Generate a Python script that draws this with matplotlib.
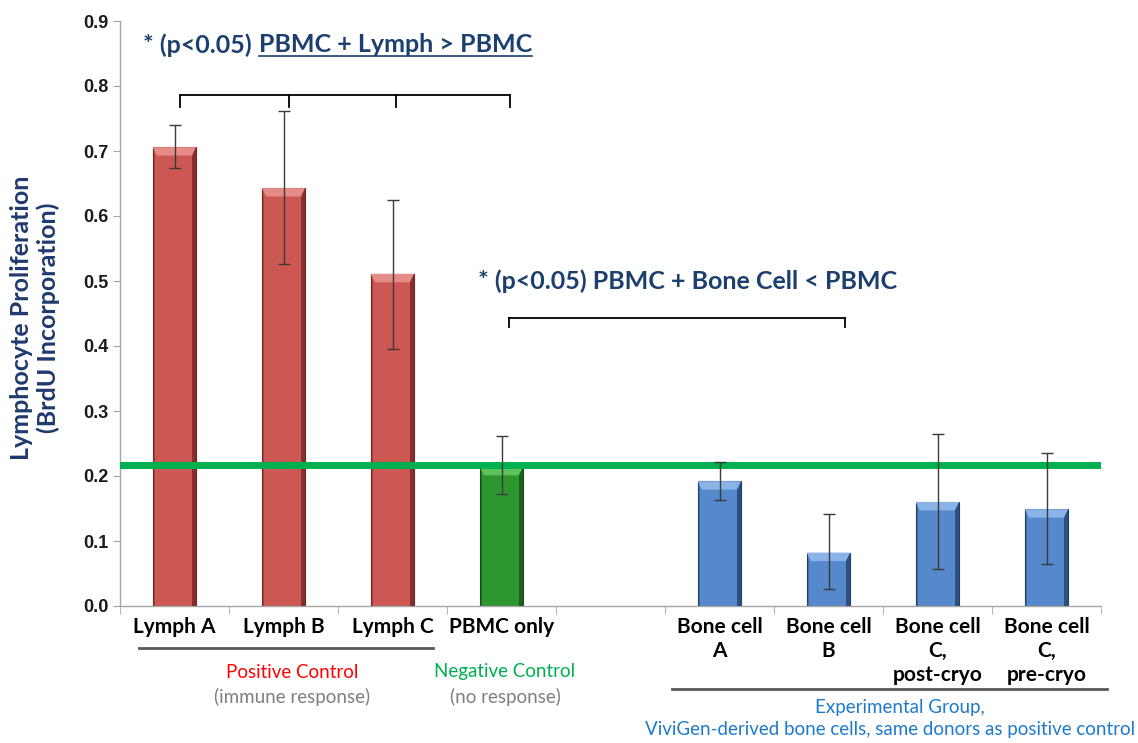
import numpy as np
import matplotlib
matplotlib.use("Agg")
import matplotlib.pyplot as plt
from matplotlib.patches import Polygon
from matplotlib.lines import Line2D
from matplotlib.transforms import IdentityTransform

# data
labels = ["Lymph A", "Lymph B", "Lymph C", "PBMC only", "",
          "Bone cell\nA", "Bone cell\nB", "Bone cell\nC,\npost-cryo", "Bone cell\nC,\npre-cryo"]
positions = [0, 1, 2, 3, 5, 6, 7, 8]
values = [0.706, 0.643, 0.511, 0.214, 0.192, 0.082, 0.160, 0.149]
err_hi = [0.740, 0.762, 0.625, 0.262, 0.221, 0.142, 0.265, 0.235]
err_lo = [0.674, 0.526, 0.395, 0.172, 0.163, 0.026, 0.057, 0.065]
groups = ["pos", "pos", "pos", "neg", "exp", "exp", "exp", "exp"]
baseline = 0.217

colors = {
    "pos": ("#CD5752", "#E58C88", "#6E2421"),
    "neg": ("#2E962E", "#5CC25C", "#134D13"),
    "exp": ("#5689CC", "#8AB4E8", "#1F3E66"),
}

W, H = 1138, 743


def px(x, y):
    return x / W, 1 - y / H


def bevel_bar(ax, x, h, base, light, dark, w=0.40):
    ax.bar(x, h, width=w, color=base, edgecolor=dark, linewidth=0.8, zorder=2)
    bx = w * 0.10
    by = 0.013
    x0, x1 = x - w / 2, x + w / 2
    top = Polygon([(x0, h), (x1, h), (x1 - bx, h - by), (x0 + bx, h - by)],
                  closed=True, facecolor=light, edgecolor="none", zorder=3)
    right = Polygon([(x1, h), (x1, 0), (x1 - bx, 0), (x1 - bx, h - by)],
                    closed=True, facecolor=dark, edgecolor="none", alpha=0.75, zorder=3)
    left = Polygon([(x0, h), (x0, 0), (x0 + bx * 0.6, 0), (x0 + bx * 0.6, h - by)],
                   closed=True, facecolor=dark, edgecolor="none", alpha=0.35, zorder=3)
    for p in (top, right, left):
        ax.add_patch(p)


fig = plt.figure(figsize=(W / 100, H / 100), dpi=100)
ax = fig.add_axes([120 / W, 1 - 606 / H, 981 / W, 585 / H])

for x, v, g in zip(positions, values, groups):
    base, light, dark = colors[g]
    bevel_bar(ax, x, v, base, light, dark)

ax.axhline(baseline, xmin=0, xmax=0.996, color="#00B050", lw=5, zorder=4)

vals = np.array(values)
yerr = [vals - np.array(err_lo), np.array(err_hi) - vals]
ax.errorbar(positions, values, yerr=yerr, fmt="none", ecolor="#3a3a3a",
            elinewidth=1, capsize=4, capthick=1, zorder=5)

# brackets
def bracket(xs, y_top, y_bot, lw=1.3):
    ax.plot([xs[0], xs[-1]], [y_top, y_top], color="black", lw=lw, zorder=6, clip_on=False)
    for xx in xs:
        ax.plot([xx, xx], [y_top, y_bot], color="black", lw=lw, zorder=6, clip_on=False)

bracket([0.05, 1.05, 2.03, 3.08], 0.786, 0.768)
bracket([3.07, 6.15], 0.443, 0.430)

ax.set_xlim(-0.5, 8.5)
ax.set_ylim(0, 0.9)
ax.set_yticks(np.arange(0, 0.91, 0.1))
ax.set_yticklabels([f"{t:.1f}" for t in np.arange(0, 0.91, 0.1)],
                   fontfamily="Liberation Sans", fontweight="bold", fontsize=13, color="#1a1a1a")
ax.set_xticks(range(9))
ax.set_xticklabels(labels, fontfamily="Lato", fontweight="bold", fontsize=15,
                   color="black", linespacing=1.25, va="top")
ax.set_xticks(np.arange(-0.5, 9, 1), minor=True)
ax.tick_params(axis="x", which="major", length=0, pad=8)
ax.tick_params(axis="x", which="minor", length=6, color="#A6A6A6", direction="out")
ax.tick_params(axis="y", length=5, color="#A6A6A6", pad=3)
for s in ("top", "right"):
    ax.spines[s].set_visible(False)
for s in ("left", "bottom"):
    ax.spines[s].set_color("#A6A6A6")
    ax.spines[s].set_linewidth(1)

navy = "#1B3F6E"
fig.text(*px(22, 318), "Lymphocyte Proliferation", rotation=90, ha="center", va="center",
         fontfamily="Lato", fontweight="bold", fontsize=18, color="#1F3A6E")
fig.text(*px(48, 318), "(BrdU Incorporation)", rotation=90, ha="center", va="center",
         fontfamily="Lato", fontweight="bold", fontsize=18, color="#1F3A6E")

# annotations
t_a = fig.text(*px(143, 45), "* (p<0.05)", ha="left", va="center",
               fontfamily="Lato", fontweight="bold", fontsize=18, color=navy)
fig.text(*px(478, 281), "* (p<0.05) PBMC + Bone Cell < PBMC", ha="left", va="center",
         fontfamily="Lato", fontweight="bold", fontsize=18, color=navy)

# group labels
fig.add_artist(Line2D([139 / W, 433 / W], [1 - 648 / H] * 2, color="#595959", lw=2))
fig.add_artist(Line2D([672 / W, 1107 / W], [1 - 689 / H] * 2, color="#595959", lw=2))
fig.text(*px(292, 672), "Positive Control", ha="center", va="center",
         fontfamily="Lato", fontsize=13.5, color="#FF0000")
fig.text(*px(292, 697), "(immune response)", ha="center", va="center",
         fontfamily="Lato", fontsize=13.5, color="#7F7F7F")
fig.text(*px(505, 672), "Negative Control", ha="center", va="center",
         fontfamily="Lato", fontsize=13.5, color="#00B050")
fig.text(*px(505, 697), "(no response)", ha="center", va="center",
         fontfamily="Lato", fontsize=13.5, color="#7F7F7F")
fig.text(*px(900, 708), "Experimental Group,", ha="center", va="center",
         fontfamily="Lato", fontsize=13.5, color="#1F7ACD")
fig.text(*px(890, 730), "ViviGen-derived bone cells, same donors as positive control", ha="center",
         va="center", fontfamily="Lato", fontsize=13.5, color="#1F7ACD")

# underlined part placed right after the first piece
fig.canvas.draw()
ba = t_a.get_window_extent()
t_u = fig.text((ba.x1 + 7) / W, 1 - 45 / H, "PBMC + Lymph > PBMC", ha="left", va="center",
               fontfamily="Lato", fontweight="bold", fontsize=18, color=navy)
fig.canvas.draw()
bb = t_u.get_window_extent()
fig.add_artist(Line2D([bb.x0, bb.x1], [bb.y0 + 1, bb.y0 + 1], color=navy, lw=1.2,
                      transform=IdentityTransform()))

fig.savefig("out.png", dpi=100)
